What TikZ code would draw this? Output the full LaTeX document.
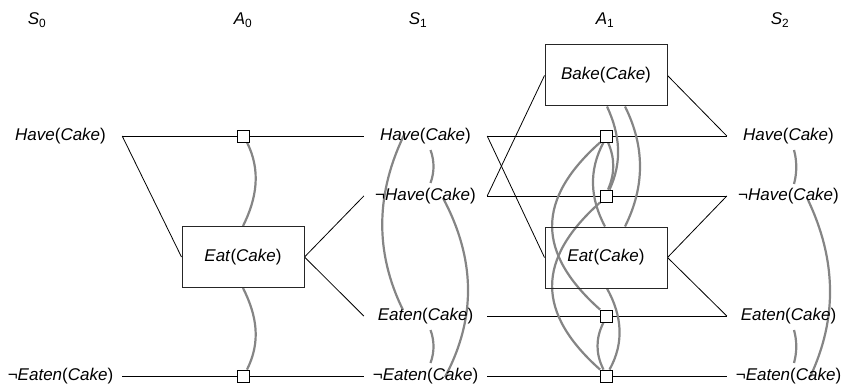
\documentclass[tikz,border=0pt]{standalone}
\usepackage{fontspec}
\setmainfont{Liberation Sans}
\usetikzlibrary{backgrounds}
\newcommand\prd[2]{\textit{#1}(\textit{#2})}
\begin{document}
\begin{tikzpicture}[x=1pt,y=-1pt,
  font=\fontsize{17}{20}\selectfont,
  st/.style={minimum width=123pt, inner sep=0pt},
  hd/.style={inner sep=0pt},
  act/.style={draw, fill=white, minimum size=12pt, inner sep=0pt, line width=0.8pt},
  abox/.style={draw=black!85, minimum width=122pt, minimum height=61pt, inner sep=0pt, line width=1pt},
  lk/.style={line width=0.8pt},
  mx/.style={draw=black!48, line width=2.2pt}]
\useasboundingbox (0,0) rectangle (842,387);
% headers
\node[hd] (h0) at (37,20) {\textit{S}\textsubscript{0}};
\node[hd] (h1) at (243,20) {\textit{A}\textsubscript{0}};
\node[hd] (h2) at (418,20) {\textit{S}\textsubscript{1}};
\node[hd] (h3) at (605,20) {\textit{A}\textsubscript{1}};
\node[hd] (h4) at (780,20) {\textit{S}\textsubscript{2}};
% state level 0
\node[st] (s0h) at (60.5,136) {\prd{Have}{Cake}};
\node[st] (s0ne) at (60.5,376) {¬\prd{Eaten}{Cake}};
% state level 1
\node[st] (s1h) at (425.5,136) {\prd{Have}{Cake}};
\node[st] (s1nh) at (425.5,196) {¬\prd{Have}{Cake}};
\node[st] (s1e) at (425.5,316) {\prd{Eaten}{Cake}};
\node[st] (s1ne) at (425.5,376) {¬\prd{Eaten}{Cake}};
% state level 2
\node[st] (s2h) at (788.5,136) {\prd{Have}{Cake}};
\node[st] (s2nh) at (788.5,196) {¬\prd{Have}{Cake}};
\node[st] (s2e) at (788.5,316) {\prd{Eaten}{Cake}};
\node[st] (s2ne) at (788.5,376) {¬\prd{Eaten}{Cake}};
% action level 0
\node[abox] (a0eat) at (243,257) {\prd{Eat}{Cake}};
\node[act] (a0h) at (243,136) {};
\node[act] (a0ne) at (243,376) {};
% action level 1
\node[abox] (bake) at (606,75.5) {\prd{Bake}{Cake}};
\node[abox] (a1eat) at (606,257.5) {\prd{Eat}{Cake}};
\node[act] (a1h) at (606.5,136) {};
\node[act] (a1nh) at (606.5,196) {};
\node[act] (a1e) at (606.5,316) {};
\node[act] (a1ne) at (606.5,376) {};
\begin{pgfonlayer}{background}
% links level 0
\draw[lk] (s0h.east) -- (a0h) -- (s1h.west);
\draw[lk] (s0ne.east) -- (a0ne) -- (s1ne.west);
\draw[lk] (s0h.east) -- (a0eat.west);
\draw[lk] (a0eat.east) -- (s1nh.west);
\draw[lk] (a0eat.east) -- (s1e.west);
% links level 1
\draw[lk] (s1h.east) -- (a1h) -- (s2h.west);
\draw[lk] (s1nh.east) -- (a1nh) -- (s2nh.west);
\draw[lk] (s1e.east) -- (a1e) -- (s2e.west);
\draw[lk] (s1ne.east) -- (a1ne) -- (s2ne.west);
\draw[lk] (s1h.east) -- (a1eat.west);
\draw[lk] (s1nh.east) -- (bake.west);
\draw[lk] (bake.east) -- (s2h.west);
\draw[lk] (a1eat.east) -- (s2nh.west);
\draw[lk] (a1eat.east) -- (s2e.west);
% mutexes A0
\draw[mx] ([shift={(4,0)}]a0h.south) .. controls +(14,28) and +(14,-28) .. (a0eat.north);
\draw[mx] (a0eat.south) .. controls +(14,28) and +(14,-28) .. ([shift={(4,0)}]a0ne.north);
% mutexes S1
\draw[mx] ([shift={(5,14)}]s1h.center) .. controls +(4,11) and +(4,-11) .. ([shift={(5,-13)}]s1nh.center);
\draw[mx] ([shift={(5,14)}]s1e.center) .. controls +(4,11) and +(4,-11) .. ([shift={(5,-13)}]s1ne.center);
\draw[mx] ([shift={(-20.5,-3)}]s1h.center) .. controls +(-29,59) and +(-29,-59) .. ([shift={(-22.5,-6)}]s1e.center);
\draw[mx] ([shift={(17.5,2)}]s1nh.center) .. controls +(32,60) and +(32,-60) .. ([shift={(19.5,1)}]s1ne.center);
% mutexes S2
\draw[mx] ([shift={(5.5,14)}]s2h.center) .. controls +(3,11) and +(3,-11) .. ([shift={(5.5,-12)}]s2nh.center);
\draw[mx] ([shift={(5.5,14)}]s2e.center) .. controls +(3,11) and +(3,-11) .. ([shift={(5.5,-13)}]s2ne.center);
\draw[mx] ([shift={(19.5,4)}]s2nh.center) .. controls +(28,59) and +(28,-59) .. ([shift={(21.5,1)}]s2ne.center);
% mutexes A1
\draw[mx] ([shift={(1,0)}]bake.south) .. controls +(13,28) and +(13,-28) .. ([shift={(3,0)}]a1nh.north);
\draw[mx] ([shift={(19,0)}]bake.south) .. controls +(20,40) and +(20,-40) .. ([shift={(19,0)}]a1eat.north);
\draw[mx] ([shift={(-3,0)}]a1h.south) .. controls +(-15,28) and +(-15,-28) .. ([shift={(-1,0)}]a1eat.north);
\draw[mx] ([shift={(1.5,0)}]a1h.south) .. controls +(7,16) and +(7,-16) .. ([shift={(1.5,0)}]a1nh.north);
\draw[mx] (a1h.south west) .. controls +(-64,57) and +(-64,-57) .. (a1e.north west);
\draw[mx] (a1nh.south west) .. controls +(-64,57) and +(-64,-57) .. (a1ne.north west);
\draw[mx] ([shift={(1,0)}]a1eat.south) .. controls +(15,27) and +(15,-27) .. ([shift={(3,0)}]a1ne.north);
\draw[mx] ([shift={(-3,0)}]a1e.south) .. controls +(-8,16) and +(-8,-16) .. ([shift={(-3,0)}]a1ne.north);
\end{pgfonlayer}
\end{tikzpicture}
\end{document}
